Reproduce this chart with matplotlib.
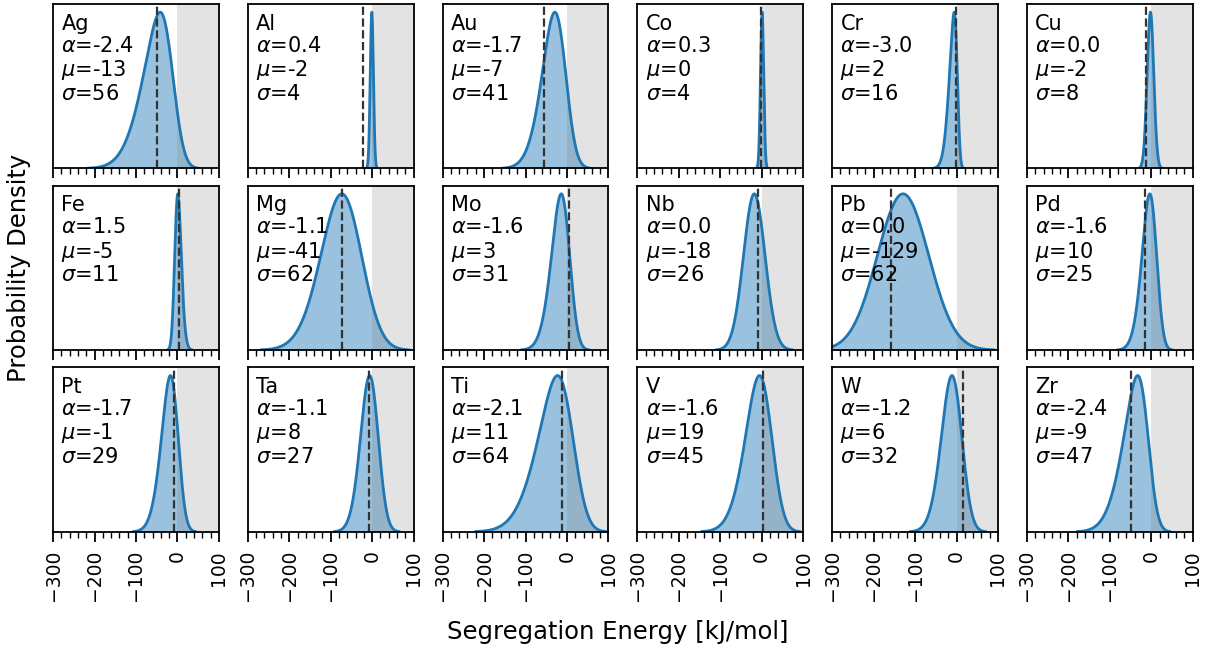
import math

import matplotlib

matplotlib.use("Agg")
import matplotlib.pyplot as plt
import numpy as np
from matplotlib.ticker import MultipleLocator

# fitted skew-normal parameters per solute
elements = ["Ag", "Al", "Au", "Co", "Cr", "Cu",
            "Fe", "Mg", "Mo", "Nb", "Pb", "Pd",
            "Pt", "Ta", "Ti", "V", "W", "Zr"]
alpha = [-2.4, 0.4, -1.7, 0.3, -3.0, 0.0,
         1.5, -1.1, -1.6, 0.0, 0.0, -1.6,
         -1.7, -1.1, -2.1, -1.6, -1.2, -2.4]
mu = [-13, -2, -7, 0, 2, -2,
      -5, -41, 3, -18, -129, 10,
      -1, 8, 11, 19, 6, -9]
sigma = [56, 4, 41, 4, 16, 8,
         11, 62, 31, 26, 62, 25,
         29, 27, 64, 45, 32, 47]
# reference segregation energy (dashed line), kJ/mol
ref_energy = [-48, -23, -55, -1, -1, -13,
              4, -73, 6, -8, -158, -16,
              -8, -8, -13, 4, 15, -49]

BLUE = "#1f77b4"
_erf = np.vectorize(math.erf)


def skewnorm_pdf(x, a, loc, scale):
    z = (x - loc) / scale
    phi = np.exp(-0.5 * z ** 2) / math.sqrt(2 * math.pi)
    cdf = 0.5 * (1 + _erf(a * z / math.sqrt(2)))
    return 2.0 / scale * phi * cdf


plt.rcParams["font.family"] = "DejaVu Sans"
fig, axes = plt.subplots(3, 6, figsize=(12.06, 6.55), dpi=100, sharex=True)
fig.subplots_adjust(left=0.044, right=0.989, top=0.994, bottom=0.188,
                    wspace=0.175, hspace=0.104)

x = np.linspace(-300, 100, 4000)
for i, ax in enumerate(axes.flat):
    pdf = skewnorm_pdf(x, alpha[i], mu[i], sigma[i])
    keep = pdf > pdf.max() * 2e-3
    ax.fill_between(x[keep], 0, pdf[keep], color=BLUE, alpha=0.45, lw=0, zorder=1)
    ax.axvspan(0, 100, color="0.5", alpha=0.22, lw=0, zorder=1.5)
    ax.plot(x[keep], pdf[keep], color=BLUE, lw=2, zorder=2)
    ax.axvline(ref_energy[i], color="#333333", ls="--", lw=1.6, zorder=2.5)

    label = (f"{elements[i]}\n$\\alpha$={alpha[i]:.1f}\n"
             f"$\\mu$={mu[i]}\n$\\sigma$={sigma[i]}")
    ax.text(0.05, 0.94, label, transform=ax.transAxes, ha="left", va="top",
            fontsize=15, linespacing=1.12, zorder=3)

    ax.set_xlim(-300, 100)
    ax.set_ylim(0, pdf.max() / 0.95)
    ax.set_yticks([])
    ax.xaxis.set_major_locator(MultipleLocator(100))
    ax.xaxis.set_minor_locator(MultipleLocator(20))
    ax.tick_params(axis="x", which="major", length=7, width=1.3, pad=6,
                   labelsize=13.5, labelrotation=90)
    ax.tick_params(axis="x", which="minor", length=4, width=1.0)
    for sp in ax.spines.values():
        sp.set_linewidth(1.3)

fig.text(0.512, 0.035, "Segregation Energy [kJ/mol]", ha="center", va="center",
         fontsize=17.5)
fig.text(0.016, 0.591, "Probability Density", ha="center", va="center",
         rotation=90, fontsize=17.5)

fig.savefig("out.png", dpi=100)
